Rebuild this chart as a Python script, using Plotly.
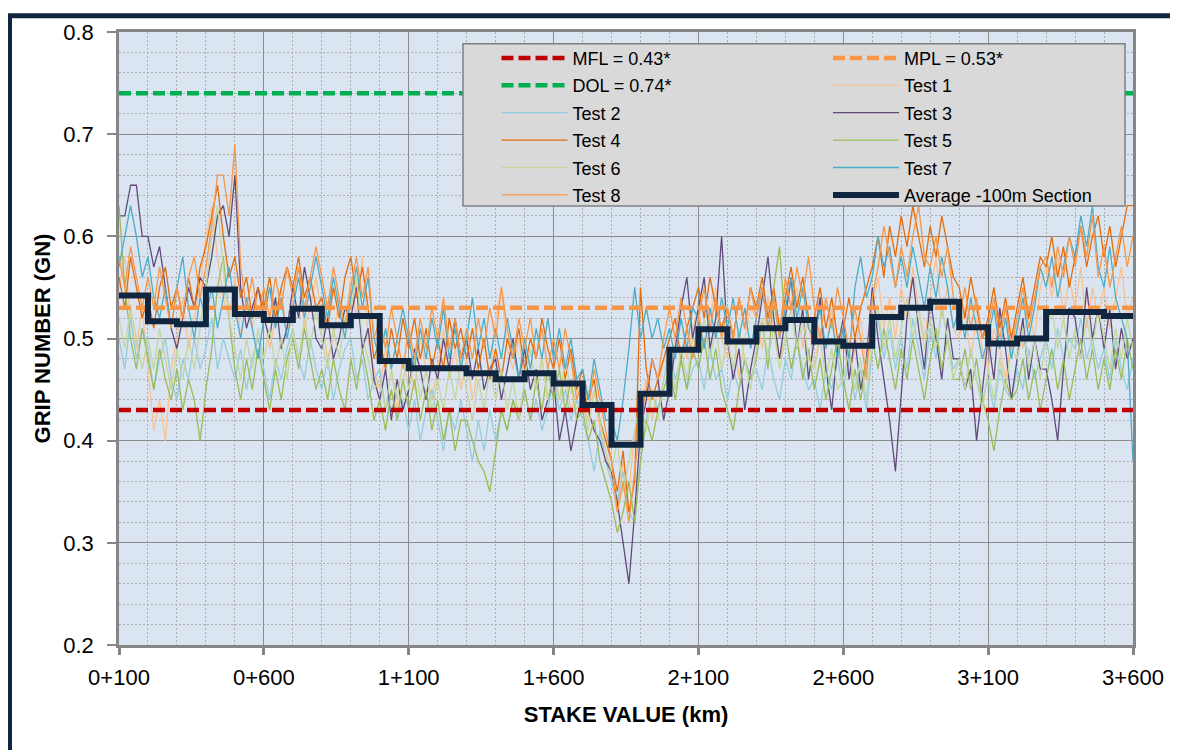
import plotly.graph_objects as go

# ---------------- data ----------------
stations = list(range(100, 3601, 20))          # stake value in metres, 20 m readings
tick_vals = [100, 600, 1100, 1600, 2100, 2600, 3100, 3600]
tick_text = ["0+100", "0+600", "1+100", "1+600", "2+100", "2+600", "3+100", "3+600"]

MFL = 0.43
MPL = 0.53
DOL = 0.74

test1 = [0.55, 0.58, 0.52, 0.49, 0.53, 0.47, 0.41, 0.44, 0.40, 0.47, 0.50, 0.54, 0.49, 0.52, 0.55,
         0.60, 0.63, 0.58, 0.54, 0.52, 0.56, 0.50, 0.53, 0.51, 0.55, 0.53, 0.49, 0.52, 0.55, 0.50,
         0.54, 0.57, 0.51, 0.53, 0.56, 0.52, 0.48, 0.50, 0.54, 0.51, 0.56, 0.52, 0.58, 0.50, 0.47,
         0.45, 0.49, 0.47, 0.43, 0.46, 0.48, 0.45, 0.50, 0.47, 0.44, 0.47, 0.51, 0.46, 0.49, 0.45,
         0.48, 0.44, 0.47, 0.50, 0.46, 0.52, 0.55, 0.49, 0.47, 0.50, 0.46, 0.49, 0.45, 0.48, 0.44,
         0.47, 0.44, 0.46, 0.43, 0.45, 0.44, 0.42, 0.45, 0.41, 0.39, 0.36, 0.33, 0.38, 0.35, 0.41,
         0.43, 0.46, 0.42, 0.45, 0.48, 0.47, 0.50, 0.52, 0.48, 0.51, 0.53, 0.49, 0.52, 0.55, 0.50,
         0.48, 0.51, 0.46, 0.50, 0.53, 0.52, 0.49, 0.54, 0.51, 0.48, 0.50, 0.53, 0.55, 0.49, 0.52,
         0.47, 0.51, 0.49, 0.53, 0.48, 0.50, 0.46, 0.49, 0.52, 0.47, 0.53, 0.56, 0.51, 0.54, 0.50,
         0.55, 0.52, 0.57, 0.53, 0.50, 0.54, 0.58, 0.52, 0.55, 0.51, 0.50, 0.53, 0.48, 0.52, 0.49,
         0.47, 0.51, 0.49, 0.46, 0.50, 0.52, 0.49, 0.53, 0.50, 0.55, 0.57, 0.54, 0.58, 0.52, 0.56,
         0.53, 0.57, 0.51, 0.55, 0.52, 0.55, 0.51, 0.54, 0.57, 0.52, 0.54]

test2 = [0.50, 0.47, 0.52, 0.48, 0.51, 0.49, 0.45, 0.48, 0.50, 0.46, 0.44, 0.48, 0.46, 0.50, 0.47,
         0.49, 0.52, 0.47, 0.50, 0.48, 0.46, 0.49, 0.45, 0.48, 0.50, 0.47, 0.44, 0.48, 0.46, 0.49,
         0.51, 0.48, 0.46, 0.50, 0.47, 0.45, 0.48, 0.44, 0.47, 0.49, 0.50, 0.46, 0.48, 0.44, 0.46,
         0.47, 0.43, 0.45, 0.42, 0.44, 0.41, 0.44, 0.40, 0.43, 0.45, 0.42, 0.39, 0.43, 0.41, 0.44,
         0.41, 0.38, 0.42, 0.39, 0.43, 0.40, 0.43, 0.41, 0.44, 0.42, 0.45, 0.42, 0.44, 0.41, 0.43,
         0.46, 0.43, 0.45, 0.42, 0.44, 0.42, 0.40, 0.37, 0.41, 0.38, 0.36, 0.34, 0.37, 0.33, 0.32,
         0.38, 0.42, 0.45, 0.43, 0.46, 0.49, 0.46, 0.48, 0.45, 0.47, 0.48, 0.45, 0.49, 0.46, 0.47,
         0.44, 0.47, 0.45, 0.48, 0.46, 0.47, 0.45, 0.49, 0.46, 0.44, 0.48, 0.46, 0.50, 0.47, 0.45,
         0.46, 0.43, 0.47, 0.45, 0.48, 0.45, 0.48, 0.44, 0.47, 0.43, 0.49, 0.52, 0.48, 0.51, 0.47,
         0.50, 0.47, 0.52, 0.49, 0.46, 0.51, 0.48, 0.53, 0.50, 0.47, 0.48, 0.45, 0.49, 0.46, 0.44,
         0.46, 0.43, 0.47, 0.45, 0.44, 0.47, 0.45, 0.49, 0.46, 0.48, 0.50, 0.47, 0.51, 0.48, 0.50,
         0.49, 0.52, 0.48, 0.50, 0.47, 0.49, 0.46, 0.50, 0.47, 0.45, 0.48]

test3 = [0.62, 0.62, 0.65, 0.65, 0.60, 0.60, 0.57, 0.59, 0.55, 0.51, 0.49, 0.52, 0.55, 0.53, 0.56,
         0.55, 0.58, 0.62, 0.63, 0.60, 0.66, 0.55, 0.51, 0.53, 0.55, 0.52, 0.50, 0.54, 0.49, 0.51,
         0.55, 0.52, 0.57, 0.54, 0.50, 0.49, 0.52, 0.48, 0.50, 0.53, 0.52, 0.55, 0.49, 0.51, 0.46,
         0.44, 0.47, 0.42, 0.46, 0.43, 0.45, 0.49, 0.47, 0.44, 0.48, 0.46, 0.50, 0.47, 0.52, 0.48,
         0.50, 0.46, 0.49, 0.45, 0.47, 0.48, 0.44, 0.47, 0.50, 0.46, 0.49, 0.45, 0.47, 0.42, 0.44,
         0.46, 0.40, 0.43, 0.39, 0.42, 0.45, 0.43, 0.41, 0.40, 0.38, 0.37, 0.34, 0.30, 0.26, 0.33,
         0.41, 0.44, 0.48, 0.46, 0.42, 0.45, 0.49, 0.53, 0.56, 0.50, 0.53, 0.56, 0.49, 0.52, 0.60,
         0.50, 0.46, 0.49, 0.43, 0.47, 0.50, 0.54, 0.58, 0.52, 0.48, 0.52, 0.56, 0.49, 0.53, 0.46,
         0.50, 0.54, 0.47, 0.43, 0.49, 0.52, 0.46, 0.50, 0.45, 0.48, 0.55, 0.50, 0.46, 0.42, 0.37,
         0.45, 0.52, 0.56, 0.51, 0.47, 0.54, 0.50, 0.46, 0.52, 0.48, 0.48, 0.45, 0.47, 0.40, 0.45,
         0.50, 0.46, 0.53, 0.49, 0.44, 0.48, 0.52, 0.46, 0.50, 0.47, 0.47, 0.44, 0.40, 0.47, 0.53,
         0.52, 0.48, 0.55, 0.50, 0.53, 0.49, 0.53, 0.47, 0.51, 0.48, 0.50]

test4 = [0.56, 0.53, 0.58, 0.55, 0.52, 0.54, 0.51, 0.55, 0.57, 0.53, 0.55, 0.52, 0.56, 0.53, 0.57,
         0.59, 0.62, 0.65, 0.60, 0.56, 0.58, 0.54, 0.56, 0.52, 0.55, 0.53, 0.56, 0.52, 0.55, 0.57,
         0.55, 0.58, 0.54, 0.56, 0.53, 0.54, 0.51, 0.55, 0.52, 0.56, 0.58, 0.54, 0.57, 0.53, 0.48,
         0.50, 0.47, 0.51, 0.48, 0.52, 0.49, 0.52, 0.48, 0.51, 0.47, 0.50, 0.47, 0.52, 0.49, 0.51,
         0.48, 0.51, 0.47, 0.50, 0.46, 0.49, 0.46, 0.50, 0.48, 0.51, 0.47, 0.50, 0.48, 0.52, 0.49,
         0.47, 0.50, 0.46, 0.49, 0.45, 0.47, 0.44, 0.46, 0.42, 0.40, 0.38, 0.35, 0.39, 0.33, 0.36,
         0.55, 0.47, 0.44, 0.46, 0.48, 0.50, 0.52, 0.48, 0.51, 0.53, 0.55, 0.52, 0.56, 0.53, 0.51,
         0.53, 0.50, 0.54, 0.51, 0.55, 0.53, 0.56, 0.52, 0.55, 0.51, 0.54, 0.57, 0.53, 0.56, 0.52,
         0.52, 0.55, 0.51, 0.54, 0.50, 0.51, 0.54, 0.50, 0.53, 0.55, 0.57, 0.60, 0.56, 0.61, 0.58,
         0.62, 0.59, 0.63, 0.60, 0.57, 0.61, 0.58, 0.62, 0.59, 0.56, 0.55, 0.52, 0.56, 0.53, 0.50,
         0.52, 0.55, 0.51, 0.54, 0.50, 0.53, 0.56, 0.52, 0.55, 0.58, 0.57, 0.60, 0.56, 0.59, 0.55,
         0.58, 0.61, 0.57, 0.60, 0.62, 0.58, 0.61, 0.57, 0.60, 0.63, 0.63]

test5 = [0.63, 0.55, 0.50, 0.47, 0.51, 0.48, 0.45, 0.49, 0.46, 0.44, 0.47, 0.43, 0.46, 0.44, 0.40,
         0.45, 0.49, 0.55, 0.58, 0.52, 0.47, 0.44, 0.48, 0.45, 0.49, 0.46, 0.43, 0.47, 0.44, 0.48,
         0.50, 0.47, 0.51, 0.48, 0.45, 0.47, 0.44, 0.48, 0.45, 0.43, 0.48, 0.45, 0.49, 0.46, 0.42,
         0.44, 0.41, 0.45, 0.42, 0.46, 0.43, 0.46, 0.42, 0.45, 0.41, 0.44, 0.40, 0.43, 0.39, 0.42,
         0.42, 0.40, 0.38, 0.37, 0.35, 0.39, 0.43, 0.41, 0.44, 0.42, 0.45, 0.42, 0.46, 0.43, 0.47,
         0.44, 0.47, 0.43, 0.46, 0.42, 0.43, 0.40, 0.42, 0.38, 0.36, 0.34, 0.31, 0.33, 0.36, 0.32,
         0.38, 0.42, 0.40, 0.43, 0.45, 0.47, 0.44, 0.48, 0.45, 0.49, 0.47, 0.50, 0.46, 0.49, 0.45,
         0.43, 0.41, 0.45, 0.48, 0.46, 0.48, 0.52, 0.47, 0.55, 0.59, 0.51, 0.47, 0.50, 0.46, 0.49,
         0.45, 0.48, 0.44, 0.47, 0.50, 0.46, 0.43, 0.47, 0.44, 0.48, 0.50, 0.47, 0.51, 0.48, 0.45,
         0.49, 0.46, 0.50, 0.47, 0.44, 0.48, 0.51, 0.47, 0.50, 0.46, 0.46, 0.49, 0.45, 0.48, 0.44,
         0.42, 0.39, 0.43, 0.46, 0.44, 0.45, 0.48, 0.44, 0.47, 0.43, 0.46, 0.49, 0.45, 0.48, 0.44,
         0.47, 0.50, 0.46, 0.49, 0.45, 0.48, 0.45, 0.49, 0.46, 0.50, 0.47]

test6 = [0.52, 0.49, 0.53, 0.50, 0.47, 0.50, 0.47, 0.51, 0.48, 0.45, 0.49, 0.46, 0.50, 0.47, 0.51,
         0.55, 0.60, 0.63, 0.57, 0.52, 0.49, 0.46, 0.50, 0.47, 0.51, 0.48, 0.51, 0.47, 0.50, 0.46,
         0.51, 0.48, 0.52, 0.49, 0.53, 0.50, 0.47, 0.51, 0.48, 0.52, 0.53, 0.56, 0.50, 0.48, 0.45,
         0.46, 0.43, 0.47, 0.44, 0.48, 0.45, 0.48, 0.44, 0.47, 0.43, 0.46, 0.43, 0.47, 0.44, 0.48,
         0.45, 0.42, 0.46, 0.43, 0.47, 0.44, 0.47, 0.43, 0.46, 0.42, 0.46, 0.49, 0.45, 0.48, 0.44,
         0.47, 0.44, 0.48, 0.45, 0.43, 0.44, 0.41, 0.45, 0.42, 0.39, 0.37, 0.40, 0.35, 0.38, 0.41,
         0.44, 0.41, 0.45, 0.42, 0.46, 0.48, 0.45, 0.49, 0.46, 0.50, 0.49, 0.52, 0.48, 0.51, 0.47,
         0.50, 0.47, 0.51, 0.48, 0.45, 0.49, 0.52, 0.48, 0.51, 0.47, 0.50, 0.53, 0.49, 0.52, 0.48,
         0.47, 0.50, 0.46, 0.49, 0.45, 0.46, 0.49, 0.45, 0.48, 0.44, 0.50, 0.53, 0.49, 0.52, 0.48,
         0.51, 0.54, 0.50, 0.53, 0.49, 0.52, 0.49, 0.53, 0.50, 0.46, 0.48, 0.45, 0.49, 0.46, 0.43,
         0.47, 0.44, 0.48, 0.45, 0.49, 0.48, 0.51, 0.47, 0.50, 0.46, 0.50, 0.53, 0.49, 0.52, 0.48,
         0.51, 0.48, 0.52, 0.49, 0.53, 0.50, 0.47, 0.51, 0.48, 0.52, 0.49]

test7 = [0.57, 0.60, 0.63, 0.60, 0.56, 0.58, 0.54, 0.52, 0.55, 0.51, 0.55, 0.58, 0.53, 0.50, 0.54,
         0.52, 0.55, 0.51, 0.54, 0.57, 0.53, 0.50, 0.54, 0.51, 0.48, 0.52, 0.55, 0.51, 0.54, 0.50,
         0.53, 0.56, 0.52, 0.55, 0.58, 0.55, 0.52, 0.56, 0.53, 0.50, 0.54, 0.57, 0.53, 0.56, 0.50,
         0.48, 0.51, 0.47, 0.50, 0.53, 0.50, 0.47, 0.51, 0.48, 0.52, 0.49, 0.53, 0.48, 0.51, 0.47,
         0.50, 0.54, 0.49, 0.52, 0.48, 0.51, 0.48, 0.52, 0.49, 0.46, 0.50, 0.47, 0.51, 0.48, 0.52,
         0.48, 0.51, 0.47, 0.50, 0.46, 0.47, 0.44, 0.48, 0.45, 0.42, 0.42, 0.40, 0.44, 0.49, 0.55,
         0.50, 0.53, 0.50, 0.52, 0.49, 0.51, 0.48, 0.52, 0.49, 0.53, 0.52, 0.49, 0.53, 0.50, 0.54,
         0.51, 0.54, 0.50, 0.53, 0.49, 0.52, 0.55, 0.51, 0.54, 0.50, 0.53, 0.56, 0.52, 0.55, 0.51,
         0.50, 0.53, 0.49, 0.52, 0.48, 0.51, 0.48, 0.55, 0.58, 0.54, 0.56, 0.60, 0.57, 0.59, 0.55,
         0.58, 0.55, 0.59, 0.56, 0.53, 0.57, 0.54, 0.58, 0.55, 0.51, 0.53, 0.50, 0.54, 0.51, 0.48,
         0.50, 0.53, 0.49, 0.52, 0.48, 0.51, 0.54, 0.50, 0.53, 0.57, 0.55, 0.58, 0.54, 0.57, 0.60,
         0.58, 0.62, 0.59, 0.63, 0.57, 0.55, 0.59, 0.54, 0.52, 0.50, 0.38]

test8 = [0.58, 0.55, 0.59, 0.56, 0.53, 0.56, 0.53, 0.57, 0.54, 0.51, 0.55, 0.52, 0.56, 0.58, 0.54,
         0.57, 0.61, 0.66, 0.66, 0.62, 0.69, 0.57, 0.53, 0.56, 0.52, 0.55, 0.52, 0.56, 0.53, 0.57,
         0.54, 0.57, 0.53, 0.56, 0.59, 0.56, 0.53, 0.57, 0.54, 0.51, 0.55, 0.58, 0.54, 0.57, 0.50,
         0.52, 0.49, 0.53, 0.50, 0.47, 0.51, 0.48, 0.52, 0.49, 0.53, 0.50, 0.54, 0.49, 0.52, 0.48,
         0.51, 0.48, 0.52, 0.49, 0.53, 0.50, 0.55, 0.51, 0.48, 0.52, 0.49, 0.52, 0.48, 0.51, 0.47,
         0.50, 0.47, 0.51, 0.48, 0.44, 0.46, 0.43, 0.47, 0.44, 0.41, 0.38, 0.33, 0.36, 0.32, 0.37,
         0.42, 0.45, 0.48, 0.46, 0.50, 0.53, 0.50, 0.54, 0.51, 0.48, 0.52, 0.55, 0.51, 0.54, 0.50,
         0.53, 0.50, 0.54, 0.51, 0.55, 0.52, 0.55, 0.51, 0.54, 0.50, 0.56, 0.53, 0.57, 0.54, 0.58,
         0.53, 0.50, 0.54, 0.51, 0.55, 0.52, 0.49, 0.53, 0.50, 0.46, 0.54, 0.57, 0.61, 0.58, 0.55,
         0.59, 0.56, 0.60, 0.63, 0.58, 0.57, 0.60, 0.56, 0.59, 0.54, 0.52, 0.55, 0.51, 0.54, 0.50,
         0.51, 0.54, 0.50, 0.53, 0.49, 0.52, 0.55, 0.51, 0.54, 0.57, 0.58, 0.55, 0.59, 0.56, 0.60,
         0.57, 0.61, 0.58, 0.62, 0.56, 0.59, 0.55, 0.58, 0.61, 0.57, 0.60]

# average of each 100 m section (section starts at 0+100, 0+200, ...)
section_start = list(range(100, 3601, 100))
avg_section = [0.542, 0.517, 0.514, 0.548, 0.524, 0.518, 0.529, 0.513, 0.522, 0.478,
               0.471, 0.471, 0.466, 0.460, 0.466, 0.456, 0.435, 0.396, 0.446, 0.489,
               0.509, 0.497, 0.510, 0.518, 0.497, 0.493, 0.521, 0.530, 0.536, 0.511,
               0.495, 0.500, 0.526, 0.526, 0.522]

tests = [test1, test2, test3, test4, test5, test6, test7, test8]
for t in tests:
    assert len(t) == len(stations), len(t)

# ---------------- styling ----------------
FONT = "Liberation Sans, Arial, sans-serif"
test_colors = ["#fac090", "#93cddd", "#604a7b", "#e46c0a",
               "#9bbb59", "#c3d69b", "#4bacc6", "#f79646"]
# legend column / rank for each test (row-major two-column legend)
test_legend = ["legend2", "legend", "legend2", "legend", "legend2", "legend", "legend2", "legend"]
test_rank = [2, 3, 3, 4, 4, 5, 5, 6]

fig = go.Figure()

for i, (vals, col) in enumerate(zip(tests, test_colors)):
    name = f"Test {i + 1}"
    fig.add_trace(go.Scatter(
        x=stations, y=vals, mode="lines", name=name,
        line=dict(color=col, width=1.3),
        legend=test_legend[i], legendgroup=name, legendrank=test_rank[i],
    ))

limits = [("MFL = 0.43*", MFL, "#c00000", "legend", 1),
          ("MPL = 0.53*", MPL, "#f79646", "legend2", 1),
          ("DOL = 0.74*", DOL, "#00b050", "legend", 2)]
for name, val, col, lg, rk in limits:
    fig.add_trace(go.Scatter(
        x=[stations[0], stations[-1]], y=[val, val], mode="lines", name=name,
        line=dict(color=col, width=4.5, dash="12px,5px"),
        legend=lg, legendgroup=name, legendrank=rk,
    ))

fig.add_trace(go.Scatter(
    x=section_start, y=avg_section + [avg_section[-1]], mode="lines",
    name="Average -100m Section", line=dict(color="#10253f", width=6, shape="hv"),
    legend="legend2", legendgroup="avg", legendrank=6,
))

# geometry: the page adds an 8 px body margin, so work in page pixels
OFF = 8
W, H = 1178 - OFF, 750 - OFF
PL, PR, PT, PB = 119, 1133, 25, 645          # plot area in page pixels
L, T = PL - OFF, PT - OFF
R, B = W - (PR - OFF), H - (PB - OFF)
PW, PH = PR - PL, PB - PT


def px_x(p):
    return (p - PL) / PW


def px_y(p):
    return 1 - (p - PT) / PH


legend_common = dict(
    bgcolor="rgba(0,0,0,0)", borderwidth=0,
    font=dict(family=FONT, size=18, color="#000000"),
    itemwidth=66, traceorder="grouped", tracegroupgap=1,
    xanchor="left", yanchor="top", orientation="v",
    itemclick=False, itemdoubleclick=False,
)

fig.update_layout(
    width=W, height=H,
    margin=dict(l=L, r=R, t=T, b=B),
    paper_bgcolor="#ffffff",
    plot_bgcolor="#dbe5f1",
    font=dict(family=FONT, color="#000000"),
    showlegend=True,
    legend=dict(x=px_x(496.5), y=px_y(32.8), **legend_common),
    legend2=dict(x=px_x(828), y=px_y(32.8), **legend_common),
    shapes=[
        # legend box
        dict(type="rect", xref="paper", yref="paper",
             x0=px_x(463), x1=px_x(1125), y0=px_y(201), y1=px_y(37),
             fillcolor="#d9d9d9", line=dict(color="#808080", width=1.5), layer="above"),
        # outer dark frame of the chart
        dict(type="rect", xref="paper", yref="paper",
             x0=px_x(9.5), x1=px_x(1200), y0=px_y(770), y1=px_y(8.5),
             fillcolor="rgba(0,0,0,0)", line=dict(color="#10253f", width=5), layer="below"),
    ],
)

fig.update_xaxes(
    range=[stations[0], stations[-1]],
    tickmode="array", tickvals=tick_vals, ticktext=tick_text,
    ticks="outside", ticklen=7, tickwidth=2.5, tickcolor="#868686",
    ticklabelstandoff=4,
    tickfont=dict(family=FONT, size=22, color="#000000"),
    showline=True, linecolor="#868686", linewidth=2.5, mirror=True,
    showgrid=True, gridcolor="#8c8c8c", gridwidth=1.3,
    minor=dict(tickmode="linear", tick0=100, dtick=100, showgrid=True,
               gridcolor="#adadad", griddash="2px,2px", gridwidth=1, ticks=""),
    zeroline=False,
    title=dict(text="STAKE VALUE (km)", standoff=18,
               font=dict(family=FONT, size=22, color="#000000", weight="bold")),
)

fig.update_yaxes(
    range=[0.2, 0.8], tickmode="linear", tick0=0.2, dtick=0.1, tickformat=".1f",
    ticks="outside", ticklen=9, tickwidth=1.5, tickcolor="#868686",
    ticklabelstandoff=9,
    tickfont=dict(family=FONT, size=22, color="#000000"),
    showline=True, linecolor="#868686", linewidth=2.5, mirror=True,
    showgrid=True, gridcolor="#8c8c8c", gridwidth=1.3,
    minor=dict(tickmode="linear", tick0=0.2, dtick=0.02, showgrid=True,
               gridcolor="#adadad", griddash="2px,2px", gridwidth=1, ticks=""),
    zeroline=False,
    title=dict(text="GRIP NUMBER (GN)", standoff=7,
               font=dict(family=FONT, size=22, color="#000000", weight="bold")),
)

fig.write_html("out.html")
